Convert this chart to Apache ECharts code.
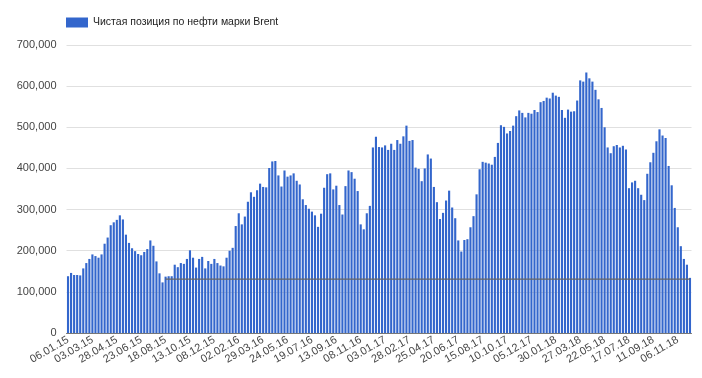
<!DOCTYPE html>
<html>
<head>
<meta charset="utf-8">
<script src="https://cdn.jsdelivr.net/npm/echarts@6/dist/echarts.min.js"></script>
<style>
  html, body { margin: 0; padding: 0; background: #fff; }
  #chart { width: 702px; height: 378px; }
</style>
</head>
<body>
<div id="chart"></div>
<script>
// недельные данные, первая дата 06.01.15
var startDate = Date.UTC(2015, 0, 6);
var seriesName = 'Чистая позиция по нефти марки Brent';

var positions = [
  138000, 146000, 141000, 141000, 140000, 157000, 170000, 180000, 191000, 187000,
  183000, 191000, 217000, 232000, 262000, 269000, 275000, 286000, 276000, 239000,
  219000, 206000, 199000, 192000, 189000, 197000, 204000, 225000, 212000, 174000,
  145000, 123000, 137000, 138000, 138000, 166000, 160000, 170000, 168000, 180000,
  201000, 183000, 159000, 180000, 185000, 157000, 175000, 168000, 180000, 170000,
  164000, 162000, 183000, 200000, 207000, 260000, 291000, 264000, 283000, 319000,
  342000, 331000, 347000, 363000, 355000, 354000, 401000, 417000, 418000, 383000,
  356000, 395000, 380000, 383000, 388000, 370000, 361000, 325000, 311000, 302000,
  295000, 286000, 258000, 290000, 353000, 386000, 388000, 349000, 358000, 311000,
  288000, 357000, 395000, 391000, 375000, 345000, 264000, 252000, 291000, 309000,
  451000, 477000, 452000, 451000, 456000, 445000, 460000, 445000, 469000, 460000,
  478000, 504000, 467000, 469000, 402000, 399000, 369000, 400000, 434000, 424000,
  355000, 318000, 277000, 292000, 322000, 346000, 305000, 279000, 225000, 198000,
  226000, 228000, 257000, 284000, 337000, 398000, 416000, 414000, 412000, 409000,
  428000, 462000, 505000, 501000, 485000, 491000, 504000, 527000, 541000, 535000,
  524000, 535000, 533000, 542000, 537000, 561000, 564000, 572000, 570000, 584000,
  577000, 574000, 542000, 523000, 543000, 538000, 539000, 565000, 614000, 611000,
  633000, 619000, 611000, 591000, 568000, 547000, 500000, 451000, 437000, 454000,
  457000, 451000, 455000, 446000, 352000, 366000, 370000, 352000, 336000, 323000,
  387000, 415000, 438000, 466000, 495000, 480000, 474000, 406000, 359000, 304000,
  257000, 211000, 180000, 166000, 134000
];

// серая горизонтальная линия поверх столбцов (с 32-й недели до конца)
var refLineValue = 131000;
var refLineFrom = 32;

function pad(n) { return n < 10 ? '0' + n : '' + n; }
var dates = [];
for (var i = 0; i < positions.length; i++) {
    var d = new Date(startDate + i * 7 * 86400000);
    dates.push(pad(d.getUTCDate()) + '.' + pad(d.getUTCMonth() + 1) + '.' + pad(d.getUTCFullYear() % 100));
}
var refLine = positions.map(function (v, i) { return i >= refLineFrom ? refLineValue : null; });

var myChart = echarts.init(document.getElementById('chart'));
var font = '"Liberation Sans", Arial, sans-serif';

var option = {
    animation: false,
    textStyle: { fontFamily: font },
    legend: {
        data: [seriesName],
        left: 61,
        top: 12,
        icon: 'rect',
        itemWidth: 22,
        itemHeight: 10,
        textStyle: { fontSize: 10.5, color: '#222', fontFamily: font }
    },
    grid: {
        left: 66.5,
        right: 10.5,
        top: 45,
        bottom: 45
    },
    xAxis: {
        type: 'category',
        data: dates,
        axisTick: { show: false },
        axisLine: { show: true, lineStyle: { color: '#777', width: 1 } },
        axisLabel: {
            interval: 7,
            rotate: 30,
            margin: 6,
            fontSize: 11,
            color: '#444',
            fontFamily: font
        }
    },
    yAxis: {
        type: 'value',
        min: 0,
        max: 700000,
        interval: 100000,
        axisLine: { show: false },
        axisTick: { show: false },
        splitLine: { lineStyle: { color: '#e0e0e0' } },
        axisLabel: {
            fontSize: 11,
            color: '#444',
            margin: 10,
            fontFamily: font,
            formatter: function (v) { return v.toLocaleString('en-US'); }
        }
    },
    series: [
        {
            name: seriesName,
            type: 'bar',
            data: positions,
            barCategoryGap: '30%',
            itemStyle: { color: '#3366cc' }
        },
        {
            name: 'ref',
            type: 'line',
            data: refLine,
            z: 5,
            silent: true,
            showSymbol: false,
            symbol: 'none',
            lineStyle: { color: '#666', width: 1.2 },
            itemStyle: { color: '#666' }
        }
    ]
};

myChart.setOption(option);
</script>
</body>
</html>
